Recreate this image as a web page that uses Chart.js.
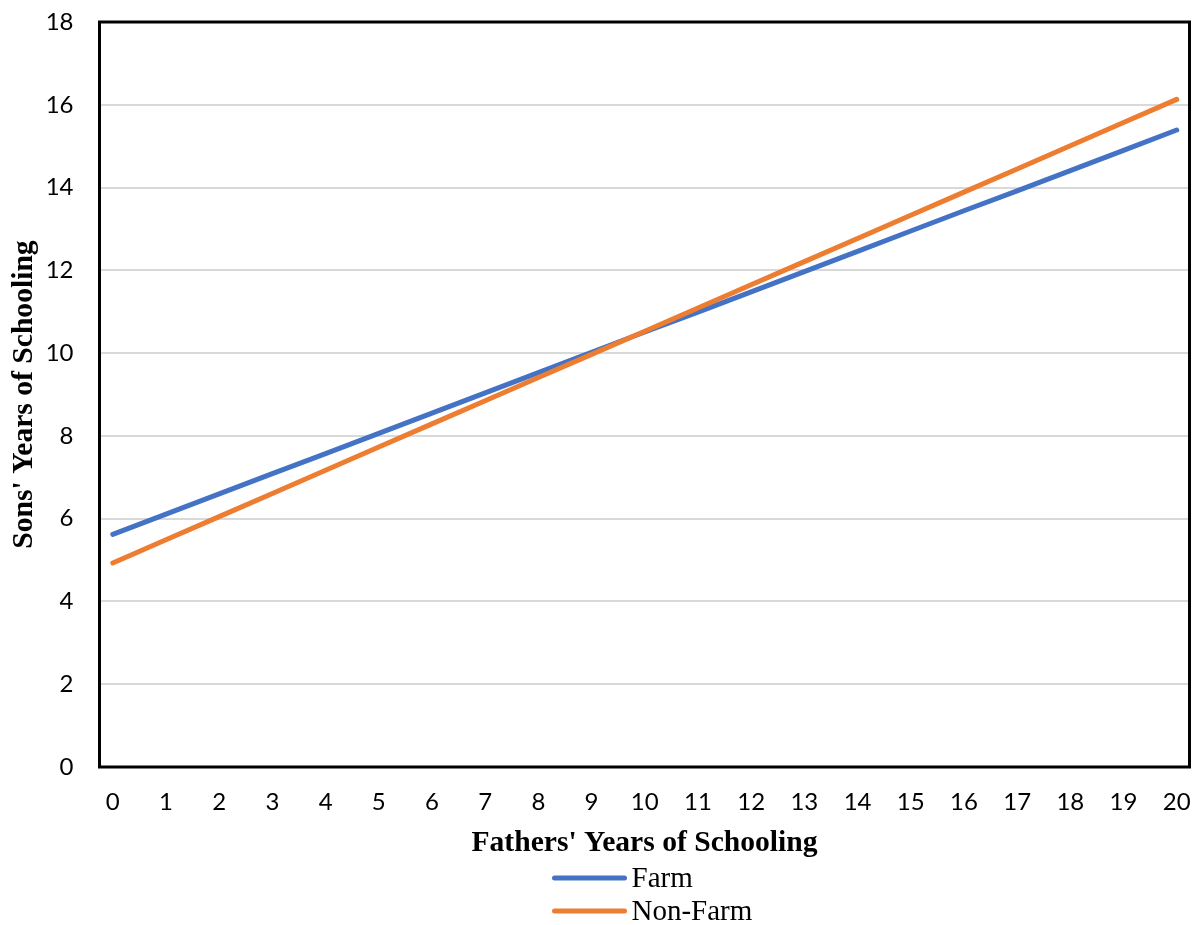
<!DOCTYPE html>
<html>
<head>
<meta charset="utf-8">
<script src="https://cdn.jsdelivr.net/npm/chart.js@4/dist/chart.umd.min.js"></script>
<style>
    html, body { margin: 0; padding: 0; background: #fff; overflow: hidden; }
    canvas { display: block; }
</style>
</head>
<body>
<canvas id="schoolChart" width="1195" height="925"></canvas>
<script>
// fathers' years of schooling (x) and predicted sons' years (y)
const fatherYears = [0, 1, 2, 3, 4, 5, 6, 7, 8, 9, 10, 11, 12, 13, 14, 15, 16, 17, 18, 19, 20];
const farmSons = [5.62, 6.11, 6.60, 7.09, 7.57, 8.06, 8.55, 9.04, 9.53, 10.02, 10.51,
    10.99, 11.48, 11.97, 12.46, 12.95, 13.44, 13.92, 14.41, 14.90, 15.39];
const nonFarmSons = [4.93, 5.49, 6.05, 6.61, 7.17, 7.73, 8.29, 8.85, 9.41, 9.97, 10.53,
    11.09, 11.65, 12.21, 12.77, 13.33, 13.89, 14.45, 15.01, 15.57, 16.13];
const seriesNames = ['Farm', 'Non-Farm'];
const yTicks = [0, 2, 4, 6, 8, 10, 12, 14, 16, 18];

const BLUE = '#4472C4';
const ORANGE = '#ED7D31';
const serif = "'Liberation Serif', 'Times New Roman', serif";

Chart.defaults.font.family = "Lato, 'Open Sans', sans-serif";
Chart.defaults.color = '#000';

const toPoints = ys => fatherYears.map((x, i) => ({ x: x, y: ys[i] }));

// black box round the plot area
const frameBox = {
    id: 'frameBox',
    afterDatasetsDraw(chart) {
        const { ctx, chartArea: a } = chart;
        ctx.save();
        ctx.strokeStyle = '#000';
        ctx.lineWidth = 3;
        ctx.strokeRect(a.left, a.top, a.right - a.left, a.bottom - a.top);
        ctx.restore();
    }
};

// stacked legend below the x axis title, rows left aligned
const stackedLegend = {
    id: 'stackedLegend',
    afterDraw(chart) {
        const { ctx, chartArea: a } = chart;
        const startX = (a.left + a.right) / 2 - 90;
        ctx.save();
        ctx.font = '29px ' + serif;
        ctx.textBaseline = 'middle';
        ctx.fillStyle = '#000';
        chart.data.datasets.forEach((ds, i) => {
            const y = a.bottom + 111 + i * 33;
            ctx.strokeStyle = ds.borderColor;
            ctx.lineWidth = 5;
            ctx.lineCap = 'round';
            ctx.beginPath();
            ctx.moveTo(startX, y);
            ctx.lineTo(startX + 70, y);
            ctx.stroke();
            ctx.fillText(ds.label, startX + 77, y + 1);
        });
        ctx.restore();
    }
};

new Chart(document.getElementById('schoolChart'), {
    type: 'line',
    data: {
        datasets: [
            {
                label: seriesNames[0],
                data: toPoints(farmSons),
                borderColor: BLUE,
                backgroundColor: BLUE,
                borderWidth: 5,
                borderCapStyle: 'round',
                pointRadius: 0,
                order: 1
            },
            {
                label: seriesNames[1],
                data: toPoints(nonFarmSons),
                borderColor: ORANGE,
                backgroundColor: ORANGE,
                borderWidth: 5,
                borderCapStyle: 'round',
                pointRadius: 0,
                order: 0
            }
        ]
    },
    options: {
        responsive: false,
        animation: false,
        devicePixelRatio: 1,
        layout: {
            padding: { top: 22, right: 5.5, left: 0, bottom: 64 }
        },
        plugins: {
            legend: { display: false },
            tooltip: { enabled: false }
        },
        scales: {
            x: {
                type: 'linear',
                min: -0.25,
                max: 20.24,
                afterBuildTicks: s => { s.ticks = fatherYears.map(v => ({ value: v })); },
                afterFit: s => {
                    s.height = 94;
                    s.paddingLeft = 0;
                    s.paddingRight = 0;
                },
                grid: { display: false, drawTicks: false },
                border: { display: false },
                ticks: {
                    padding: 21,
                    autoSkip: false,
                    maxRotation: 0,
                    font: { size: 24 }
                },
                title: {
                    display: true,
                    text: "Fathers' Years of Schooling",
                    padding: { top: 0, bottom: 0 },
                    font: { family: serif, size: 29.6, weight: 'bold' }
                }
            },
            y: {
                min: 0,
                max: 18,
                afterBuildTicks: s => { s.ticks = yTicks.map(v => ({ value: v })); },
                afterFit: s => {
                    s.width = 99.5;
                    s.paddingTop = 0;
                    s.paddingBottom = 0;
                },
                grid: { color: '#d9d9d9', lineWidth: 2, drawTicks: false },
                border: { display: false },
                ticks: {
                    padding: 26,
                    font: { size: 24 }
                },
                title: {
                    display: true,
                    text: "Sons' Years of Schooling",
                    padding: { top: 7, bottom: 0 },
                    font: { family: serif, size: 29.6, weight: 'bold' }
                }
            }
        }
    },
    plugins: [frameBox, stackedLegend]
});
</script>
</body>
</html>
